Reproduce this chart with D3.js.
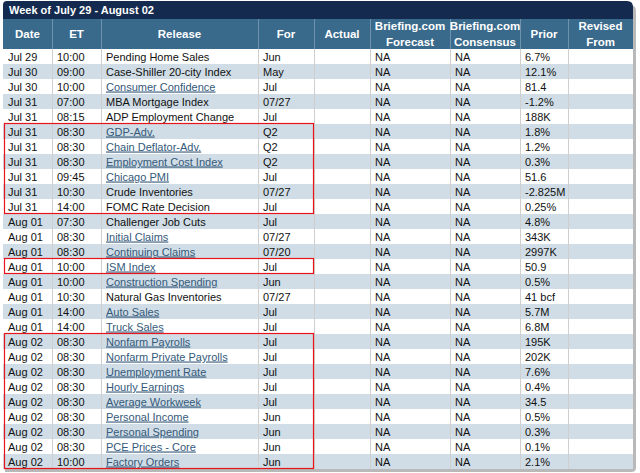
<!DOCTYPE html>
<html>
<head>
<meta charset="utf-8">
<script src="https://cdn.jsdelivr.net/npm/d3@7"></script>
<style>
  body { margin: 0; background: #fff; }
  svg { display: block; font-family: Arial, "Liberation Sans", sans-serif; }
</style>
</head>
<body>
<div id="chart"></div>
<script>
// table contents
const title = 'Week of July 29 - August 02';
const headers = [['Date'], ['ET'], ['Release'], ['For'], ['Actual'],
  ['Briefing.com', 'Forecast'], ['Briefing.com', 'Consensus'], ['Prior'], ['Revised', 'From']];
const dates = ['Jul 29','Jul 30','Jul 30','Jul 31','Jul 31','Jul 31','Jul 31','Jul 31','Jul 31','Jul 31','Jul 31',
  'Aug 01','Aug 01','Aug 01','Aug 01','Aug 01','Aug 01','Aug 01','Aug 01',
  'Aug 02','Aug 02','Aug 02','Aug 02','Aug 02','Aug 02','Aug 02','Aug 02','Aug 02'];
const times = ['10:00','09:00','10:00','07:00','08:15','08:30','08:30','08:30','09:45','10:30','14:00',
  '07:30','08:30','08:30','10:00','10:00','10:30','14:00','14:00',
  '08:30','08:30','08:30','08:30','08:30','08:30','08:30','08:30','10:00'];
const releases = ['Pending Home Sales','Case-Shiller 20-city Index','Consumer Confidence','MBA Mortgage Index',
  'ADP Employment Change','GDP-Adv.','Chain Deflator-Adv.','Employment Cost Index','Chicago PMI',
  'Crude Inventories','FOMC Rate Decision','Challenger Job Cuts','Initial Claims','Continuing Claims',
  'ISM Index','Construction Spending','Natural Gas Inventories','Auto Sales','Truck Sales',
  'Nonfarm Payrolls','Nonfarm Private Payrolls','Unemployment Rate','Hourly Earnings','Average Workweek',
  'Personal Income','Personal Spending','PCE Prices - Core','Factory Orders'];
const linked = [0,0,1,0,0,1,1,1,1,0,0,0,1,1,1,1,0,1,1,1,1,1,1,1,1,1,1,1];
const periods = ['Jun','May','Jul','07/27','Jul','Q2','Q2','Q2','Jul','07/27','Jul',
  'Jul','07/27','07/20','Jul','Jun','07/27','Jul','Jul',
  'Jul','Jul','Jul','Jul','Jul','Jun','Jun','Jun','Jun'];
const forecasts = dates.map(() => 'NA');
const consensus = dates.map(() => 'NA');
const priors = ['6.7%','12.1%','81.4','-1.2%','188K','1.8%','1.2%','0.3%','51.6','-2.825M','0.25%',
  '4.8%','343K','2997K','50.9','0.5%','41 bcf','5.7M','6.8M',
  '195K','202K','7.6%','0.4%','34.5','0.5%','0.3%','0.1%','2.1%'];
const highlights = [[5, 10], [14, 14], [19, 27]];

const width = 640, height = 473;
const colEdges = [3, 52, 101, 258, 314, 370, 450, 520, 568, 633];
const left = colEdges[0], right = colEdges[colEdges.length - 1];
const titleTop = 1, headTop = 19, bodyTop = 49, bodyBottom = 469;

const rows = dates.map((d, i) => ({
  i, cells: [d, times[i], releases[i], periods[i], '', forecasts[i], consensus[i], priors[i], ''],
  link: linked[i] === 1
}));

const y = d3.scaleBand().domain(d3.range(rows.length)).range([bodyTop, bodyBottom]);
const x0 = d3.scaleOrdinal().domain(d3.range(headers.length)).range(colEdges.slice(0, -1));
const x1 = d3.scaleOrdinal().domain(d3.range(headers.length)).range(colEdges.slice(1));

const svg = d3.select('#chart').append('svg')
  .attr('width', width).attr('height', height);

// drop shadow
svg.append('path')
  .attr('d', `M${left + 2},${titleTop + 4} H${right - 3} Q${right + 3},${titleTop + 4} ${right + 3},${titleTop + 10}
    V${bodyBottom - 1} Q${right + 3},${bodyBottom + 3} ${right - 2},${bodyBottom + 3} H${left + 2} Z`)
  .attr('fill', '#b9b9b9');

// title bar
svg.append('path')
  .attr('d', `M${left},${headTop} V${titleTop + 4} Q${left},${titleTop} ${left + 4},${titleTop}
    H${right - 6} Q${right},${titleTop} ${right},${titleTop + 6} V${headTop} Z`)
  .attr('fill', '#142a4e');
svg.append('text')
  .attr('x', left + 6).attr('y', headTop - 5)
  .attr('fill', '#fff').attr('font-size', 11).attr('font-weight', 'bold')
  .text(title);

// header
svg.append('rect')
  .attr('x', left).attr('y', headTop).attr('width', right - left).attr('height', bodyTop - headTop)
  .attr('fill', '#3a6a8b');
svg.append('g').selectAll('line')
  .data(d3.range(1, headers.length))
  .join('line')
    .attr('x1', d => x0(d) + 0.5).attr('x2', d => x0(d) + 0.5)
    .attr('y1', headTop).attr('y2', bodyTop)
    .attr('stroke', '#6f93ad');
const head = svg.append('g').selectAll('text')
  .data(headers)
  .join('text')
    .attr('x', (d, i) => (x0(i) + x1(i)) / 2)
    .attr('text-anchor', 'middle')
    .attr('fill', '#fff').attr('font-size', 11.5).attr('font-weight', 'bold');
head.selectAll('tspan')
  .data(d => d.map((t, k) => ({ t, k, n: d.length })))
  .join('tspan')
    .attr('x', function() { return this.parentNode.getAttribute('x'); })
    .attr('y', d => d.n === 1 ? 38 : (d.k === 0 ? 30 : 45.5))
    .text(d => d.t);

// body
svg.append('rect')
  .attr('x', left).attr('y', bodyTop).attr('width', right - left).attr('height', bodyBottom - bodyTop)
  .attr('fill', '#fff');
const row = svg.append('g').selectAll('g')
  .data(rows)
  .join('g')
    .attr('transform', d => `translate(0,${y(d.i)})`);
row.append('rect')
  .attr('x', left).attr('width', right - left).attr('height', y.bandwidth())
  .attr('fill', d => d.i % 2 ? '#d0dde6' : '#fff');

svg.append('g').selectAll('line')
  .data(d3.range(1, headers.length))
  .join('line')
    .attr('x1', d => x0(d) + 0.5).attr('x2', d => x0(d) + 0.5)
    .attr('y1', bodyTop).attr('y2', bodyBottom)
    .attr('stroke', '#cfcfcf');

row.selectAll('text')
  .data(d => d.cells.map((c, k) => ({ c, k, link: d.link && k === 2 })))
  .join('text')
    .attr('x', d => x0(d.k) + 5)
    .attr('y', 11.5)
    .attr('font-size', 11)
    .attr('fill', d => d.link ? '#34597a' : '#111')
    .attr('text-decoration', d => d.link ? 'underline' : null)
    .text(d => d.c);

// red highlight boxes
svg.append('g').selectAll('rect')
  .data(highlights)
  .join('rect')
    .attr('x', left + 1.5)
    .attr('y', d => y(d[0]) - 0.5)
    .attr('width', x1(3) - left - 2)
    .attr('height', d => y(d[1]) + y.bandwidth() - y(d[0]))
    .attr('fill', 'none')
    .attr('stroke', '#e8141b')
    .attr('stroke-width', 1.2);
</script>
</body>
</html>
